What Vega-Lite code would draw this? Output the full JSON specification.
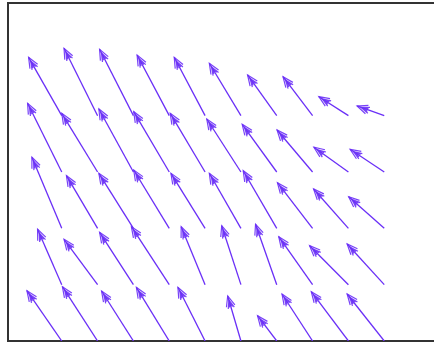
{
  "$schema": "https://vega.github.io/schema/vega-lite/v6.json",
  "width": 430,
  "height": 338,
  "autosize": {"type": "none"},
  "padding": {"left": 8, "top": 3, "right": 0, "bottom": 2},
  "background": "white",
  "config": {"view": {"stroke": "#333333", "strokeWidth": 2}},
  "data": {"values": [
    {"x": 0, "y": 4, "hx": -0.925, "hy": 5.036, "angle": -29.6},
    {"x": 1, "y": 4, "hx": 0.064, "hy": 5.196, "angle": -26.5},
    {"x": 2, "y": 4, "hx": 1.056, "hy": 5.178, "angle": -26.9},
    {"x": 3, "y": 4, "hx": 2.103, "hy": 5.077, "angle": -27.9},
    {"x": 4, "y": 4, "hx": 3.139, "hy": 5.036, "angle": -27.8},
    {"x": 5, "y": 4, "hx": 4.119, "hy": 4.93, "angle": -31.0},
    {"x": 6, "y": 4, "hx": 5.186, "hy": 4.722, "angle": -35.6},
    {"x": 7, "y": 4, "hx": 6.175, "hy": 4.692, "angle": -37.1},
    {"x": 8, "y": 4, "hx": 7.175, "hy": 4.337, "angle": -57.0},
    {"x": 9, "y": 4, "hx": 8.242, "hy": 4.172, "angle": -69.9},
    {"x": 0, "y": 3, "hx": -0.953, "hy": 4.22, "angle": -26.5},
    {"x": 1, "y": 3, "hx": 0.0, "hy": 4.042, "angle": -31.5},
    {"x": 2, "y": 3, "hx": 1.036, "hy": 4.119, "angle": -28.8},
    {"x": 3, "y": 3, "hx": 2.008, "hy": 4.071, "angle": -30.6},
    {"x": 4, "y": 3, "hx": 3.028, "hy": 4.042, "angle": -30.8},
    {"x": 5, "y": 3, "hx": 4.047, "hy": 3.941, "angle": -32.9},
    {"x": 6, "y": 3, "hx": 5.036, "hy": 3.847, "angle": -36.0},
    {"x": 7, "y": 3, "hx": 6.008, "hy": 3.746, "angle": -40.4},
    {"x": 8, "y": 3, "hx": 7.036, "hy": 3.439, "angle": -54.6},
    {"x": 9, "y": 3, "hx": 8.047, "hy": 3.403, "angle": -56.5},
    {"x": 0, "y": 2, "hx": -0.833, "hy": 3.261, "angle": -22.9},
    {"x": 1, "y": 2, "hx": 0.131, "hy": 2.935, "angle": -30.8},
    {"x": 2, "y": 2, "hx": 1.036, "hy": 2.977, "angle": -32.2},
    {"x": 3, "y": 2, "hx": 2.008, "hy": 3.036, "angle": -31.5},
    {"x": 4, "y": 2, "hx": 3.047, "hy": 2.977, "angle": -31.9},
    {"x": 5, "y": 2, "hx": 4.119, "hy": 2.977, "angle": -30.0},
    {"x": 6, "y": 2, "hx": 5.064, "hy": 3.023, "angle": -30.3},
    {"x": 7, "y": 2, "hx": 6.019, "hy": 2.81, "angle": -37.7},
    {"x": 8, "y": 2, "hx": 7.028, "hy": 2.698, "angle": -41.7},
    {"x": 9, "y": 2, "hx": 8.008, "hy": 2.562, "angle": -48.5},
    {"x": 0, "y": 1, "hx": -0.675, "hy": 1.983, "angle": -23.6},
    {"x": 1, "y": 1, "hx": 0.064, "hy": 1.805, "angle": -36.4},
    {"x": 2, "y": 1, "hx": 1.056, "hy": 1.93, "angle": -32.8},
    {"x": 3, "y": 1, "hx": 1.944, "hy": 2.029, "angle": -33.1},
    {"x": 4, "y": 1, "hx": 3.333, "hy": 2.029, "angle": -22.4},
    {"x": 5, "y": 1, "hx": 4.464, "hy": 2.047, "angle": -18.0},
    {"x": 6, "y": 1, "hx": 5.408, "hy": 2.072, "angle": -19.3},
    {"x": 7, "y": 1, "hx": 6.056, "hy": 1.852, "angle": -35.1},
    {"x": 8, "y": 1, "hx": 6.917, "hy": 1.692, "angle": -44.8},
    {"x": 9, "y": 1, "hx": 7.964, "hy": 1.722, "angle": -42.3},
    {"x": 0, "y": 0, "hx": -0.972, "hy": 0.893, "angle": -34.8},
    {"x": 1, "y": 0, "hx": 0.019, "hy": 0.964, "angle": -33.0},
    {"x": 2, "y": 0, "hx": 1.111, "hy": 0.888, "angle": -32.6},
    {"x": 3, "y": 0, "hx": 2.083, "hy": 0.953, "angle": -31.6},
    {"x": 4, "y": 0, "hx": 3.242, "hy": 0.953, "angle": -26.9},
    {"x": 5, "y": 0, "hx": 4.631, "hy": 0.799, "angle": -16.5},
    {"x": 6, "y": 0, "hx": 5.464, "hy": 0.449, "angle": -37.3},
    {"x": 7, "y": 0, "hx": 6.147, "hy": 0.834, "angle": -33.2},
    {"x": 8, "y": 0, "hx": 6.964, "hy": 0.875, "angle": -37.1},
    {"x": 9, "y": 0, "hx": 7.964, "hy": 0.834, "angle": -38.4}
  ]},
  "layer": [
    {
      "mark": {"type": "rule", "color": "#6a2ff7", "strokeWidth": 1.3, "clip": true},
      "encoding": {
        "x": {"field": "x", "type": "quantitative", "scale": {"domain": [-1.5, 10.5], "nice": false, "zero": false}, "axis": null},
        "y": {"field": "y", "type": "quantitative", "scale": {"domain": [0, 6], "nice": false, "zero": false}, "axis": null},
        "x2": {"field": "hx"},
        "y2": {"field": "hy"}
      }
    },
    {
      "mark": {"type": "point", "shape": "M-0.42,1L0,0L0.42,1M-0.3,1.2L0,0.4L0.3,1.2M-0.15,1.1L0,0.7L0.15,1.1", "filled": false, "color": "#6a2ff7", "strokeWidth": 1.2, "size": 440, "opacity": 0.9, "clip": true},
      "encoding": {
        "x": {"field": "hx", "type": "quantitative"},
        "y": {"field": "hy", "type": "quantitative"},
        "angle": {"field": "angle", "type": "quantitative", "scale": null}
      }
    }
  ]
}
